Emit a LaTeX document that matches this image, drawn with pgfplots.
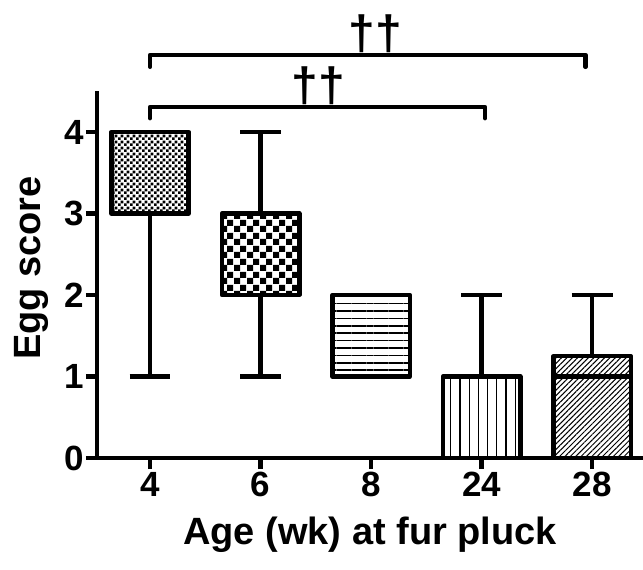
\documentclass[border=0pt]{standalone}
\usepackage{fontspec}
\setmainfont{Liberation Sans}
\usepackage{pgfplots}
\pgfplotsset{compat=1.18}
\usepgfplotslibrary{statistics}
\usetikzlibrary{patterns.meta}

\tikzdeclarepattern{
  name=FineCheck,
  type=uncolored,
  bounding box={(0bp,0bp) and (5.6bp,5.6bp)},
  tile size={(5.6bp,5.6bp)},
  code={
    \fill (0bp,0bp) rectangle (2.8bp,2.8bp);
    \fill (2.8bp,2.8bp) rectangle (5.6bp,5.6bp);
  }
}
\tikzdeclarepattern{
  name=CoarseCheck,
  type=uncolored,
  bounding box={(0bp,0bp) and (13bp,13bp)},
  tile size={(13bp,13bp)},
  code={
    \fill (0bp,0bp) rectangle (6.5bp,6.5bp);
    \fill (6.5bp,6.5bp) rectangle (13bp,13bp);
  }
}

\begin{document}
\begin{tikzpicture}
\useasboundingbox (-97bp,-112bp) rectangle (546bp,458bp);
\begin{axis}[
  at={(0,0)}, anchor=south west, scale only axis,
  width=546bp, height=366.75bp,
  xmin=-0.48, xmax=4.46, ymin=0, ymax=4.5,
  axis x line=bottom, axis y line=left,
  axis line style={-, line width=4.5bp, black},
  xtick={0,1,2,3,4}, xticklabels={4,6,8,24,28},
  ytick={0,1,2,3,4},
  tick align=outside, major tick length=11bp,
  major tick style={black, line width=4.5bp},
  tick label style={font=\fontsize{35bp}{38bp}\selectfont\bfseries},
  /pgf/number format/assume math mode=true,
  xticklabel style={inner sep=3bp},
  yticklabel style={inner sep=2bp},
  xlabel={Age (wk) at fur pluck},
  ylabel={Egg score},
  label style={font=\fontsize{38bp}{40bp}\selectfont\bfseries},
  xlabel style={at={(axis description cs:0.5,0)}, anchor=base, yshift=-86bp},
  ylabel style={at={(axis description cs:-0.1026,0.518)}, anchor=base},
  boxplot/draw direction=y,
  clip=false,
]
% box 4 wk
\addplot[boxplot prepared={draw position=0, lower whisker=1, lower quartile=3,
  median=4, upper quartile=4, upper whisker=4, box extend=0.7, whisker extend=0.37},
  draw=black, line width=4.5bp, line join=round, pattern=FineCheck, pattern color=black]
  coordinates {};
% box 6 wk
\addplot[boxplot prepared={draw position=1, lower whisker=1, lower quartile=2,
  median=3, upper quartile=3, upper whisker=4, box extend=0.7, whisker extend=0.37},
  draw=black, line width=4.5bp, line join=round, pattern=CoarseCheck, pattern color=black]
  coordinates {};
% box 8 wk
\addplot[boxplot prepared={draw position=2, lower whisker=1, lower quartile=1,
  median=2, upper quartile=2, upper whisker=2, box extend=0.7, whisker extend=0.37},
  draw=black, line width=4.5bp, line join=round,
  pattern={Lines[angle=0, distance=7.4bp, line width=1.5bp]}, pattern color=black]
  coordinates {};
% box 24 wk
\addplot[boxplot prepared={draw position=3, lower whisker=0, lower quartile=0,
  median=1, upper quartile=1, upper whisker=2, box extend=0.7, whisker extend=0.37},
  draw=black, line width=4.5bp, line join=round,
  pattern={Lines[angle=90, distance=9.2bp, line width=1.2bp]}, pattern color=black]
  coordinates {};
% box 28 wk
\addplot[boxplot prepared={draw position=4, lower whisker=0, lower quartile=0,
  median=1, upper quartile=1.25, upper whisker=2, box extend=0.7, whisker extend=0.37},
  draw=black, line width=4.5bp, line join=round,
  pattern={Lines[angle=45, distance=3.8bp, line width=1bp]}, pattern color=black]
  coordinates {};
% significance brackets
\addplot[black, line width=4.5bp, line cap=round, line join=round]
  coordinates {(0,4.80) (0,4.945) (3.94,4.945) (3.94,4.80)};
\addplot[black, line width=4.5bp, line cap=round, line join=round]
  coordinates {(0,4.17) (0,4.307) (3.03,4.307) (3.03,4.17)};
\node[anchor=south, inner sep=0pt, font=\fontsize{48bp}{48bp}\selectfont\bfseries]
  at (axis cs:2.04,4.975) {††};
\node[anchor=south, inner sep=0pt, font=\fontsize{48bp}{48bp}\selectfont\bfseries]
  at (axis cs:1.52,4.337) {††};
\end{axis}
\end{tikzpicture}
\end{document}
